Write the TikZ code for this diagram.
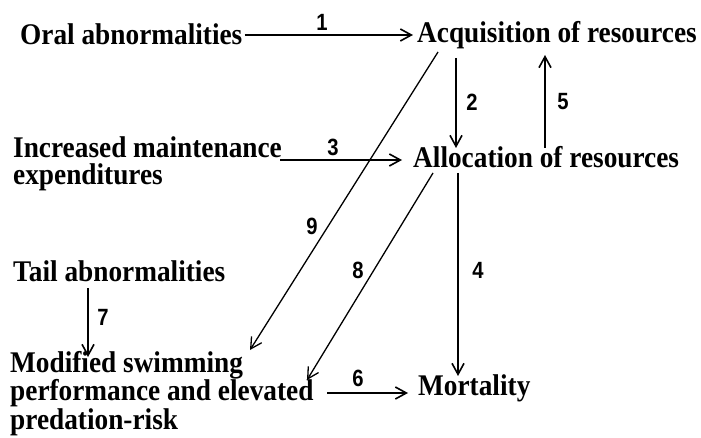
\documentclass[tikz,border=0pt]{standalone}
\usepackage{fontspec}
\setmainfont{Liberation Serif}
\newfontfamily\lblfont{Liberation Serif}[FakeStretch=0.91]
\newfontfamily\numfont{Liberation Sans}[FakeStretch=0.86]
\usetikzlibrary{arrows.meta,calc}
\begin{document}
\begin{tikzpicture}[x=1pt,y=-1pt,
  lbl/.style={inner sep=0pt, anchor=base west, align=left, font=\lblfont\fontsize{30}{27}\selectfont\bfseries},
  num/.style={inner sep=0pt, font=\numfont\fontsize{23.5}{23.5}\selectfont\bfseries},
  arr/.style={line width=1.6pt, -{Straight Barb[length=11pt,width=12pt,line width=1.6pt]}},
  darr/.style={line width=1.3pt, -{Straight Barb[length=11pt,width=12pt,line width=1.3pt]}}]
\useasboundingbox (0,0) rectangle (701,438);
\node[lbl] (oral) at (20,45) {Oral abnormalities};
\node[lbl] (acq) at (417,43) {Acquisition of resources};
\node[lbl] (inc) at (13,185) {Increased maintenance\\expenditures};
\node[lbl] (alloc) at (413,168) {Allocation of resources};
\node[lbl] (tail) at (13,282) {Tail abnormalities};
\node[lbl] (mod) at (10,429) {Modified swimming\\performance and elevated\\predation-risk};
\node[lbl] (mort) at (418,395) {Mortality};
% arrows
\draw[arr] ($(oral.base east)+(2,-10)$) -- ($(acq.base west)+(-4,-8)$);
\draw[arr] ($(acq.base west)+(39,15)$) -- ($(alloc.base west)+(43,-20)$);
\draw[arr] ($(alloc.base west)+(132,-20)$) -- ($(acq.base west)+(128,12)$);
\draw[arr] ($(inc.base west)+(267,-25)$) -- ($(alloc.base west)+(-11,-8)$);
\draw[darr] ($(acq.base west)+(21,9)$) -- ($(mod.base west)+(240,-79)$);
\draw[darr] ($(alloc.base west)+(20,5)$) -- ($(mod.base west)+(297,-49)$);
\draw[arr] ($(alloc.base west)+(45,5)$) -- ($(mort.base west)+(40,-19)$);
\draw[arr] ($(tail.base west)+(75,6)$) -- ($(mod.base west)+(78,-72)$);
\draw[arr] ($(mod.base west)+(317,-36)$) -- ($(mort.base west)+(-10,-2)$);
% labels
\node[num] (n1) at (322,22) {1};
\node[num] (n2) at (472,102) {2};
\node[num] (n5) at (563,102) {5};
\node[num] (n3) at (333,147) {3};
\node[num] (n9) at (312,226) {9};
\node[num] (n8) at (358,270) {8};
\node[num] (n4) at (478,270) {4};
\node[num] (n7) at (103,317) {7};
\node[num] (n6) at (358,378) {6};
\end{tikzpicture}
\end{document}
